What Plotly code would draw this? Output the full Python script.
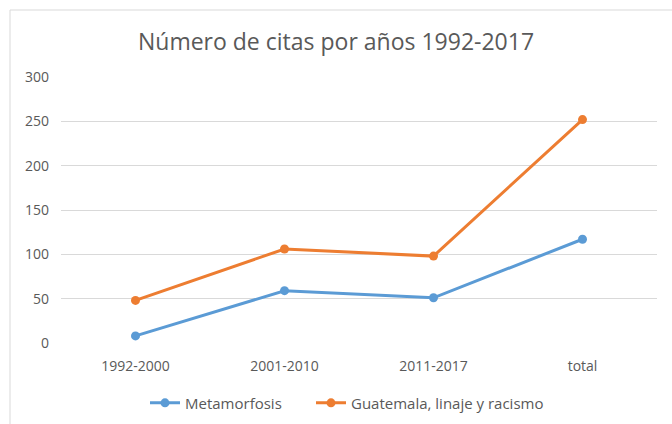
import plotly.graph_objects as go

categories = ["1992-2000", "2001-2010", "2011-2017", "total"]
metamorfosis = [8, 59, 51, 117]
guatemala = [48, 106, 98, 252]
y_ticks = [0, 50, 100, 150, 200, 250, 300]

fig = go.Figure()
fig.add_trace(go.Scatter(
    x=categories, y=metamorfosis, name="Metamorfosis",
    mode="lines+markers",
    line=dict(color="#5B9BD5", width=3),
    marker=dict(size=9, color="#5B9BD5"),
    legend="legend",
))
fig.add_trace(go.Scatter(
    x=categories, y=guatemala, name="Guatemala, linaje y racismo",
    mode="lines+markers",
    line=dict(color="#ED7D31", width=3),
    marker=dict(size=9, color="#ED7D31"),
    legend="legend2",
))

leg_common = dict(orientation="h", xanchor="left", y=-0.226, yanchor="middle",
                  font=dict(size=15, color="#595959"), bgcolor="rgba(0,0,0,0)")

fig.update_layout(
    width=672, height=424,
    margin=dict(l=61, r=15, t=77, b=81, autoexpand=False),
    paper_bgcolor="white", plot_bgcolor="white",
    font=dict(family="Open Sans, Calibri, sans-serif", color="#595959", size=14),
    title=dict(text="Número de citas por años 1992-2017", x=0.5, xanchor="center",
               y=1 - 42 / 424, yref="container", yanchor="middle", automargin=False,
               font=dict(size=23, color="#595959")),
    xaxis=dict(type="category", range=[-0.5, 3.5], showgrid=False, zeroline=False,
               showline=False, ticks="", ticklabelstandoff=13,
               tickfont=dict(size=14, color="#595959")),
    yaxis=dict(range=[0, 300], tickvals=y_ticks, showgrid=True, gridcolor="#D9D9D9",
               gridwidth=1, zeroline=False, showline=False, ticks="",
               ticklabelstandoff=11,
               tickfont=dict(size=14, color="#595959")),
    legend=dict(x=(145 - 61) / 596, **leg_common),
    legend2=dict(x=(311 - 61) / 596, **leg_common),
    showlegend=True,
    shapes=[dict(type="rect", xref="paper", yref="paper",
                 x0=(10 - 61) / 596, x1=1.2, y0=-0.5, y1=(424 - 10 - 81) / 266,
                 line=dict(color="#D9D9D9", width=1), fillcolor="rgba(0,0,0,0)",
                 layer="below")],
)

fig.write_html("out.html", post_script="document.body.style.margin='0';",
               config={"displayModeBar": False})
